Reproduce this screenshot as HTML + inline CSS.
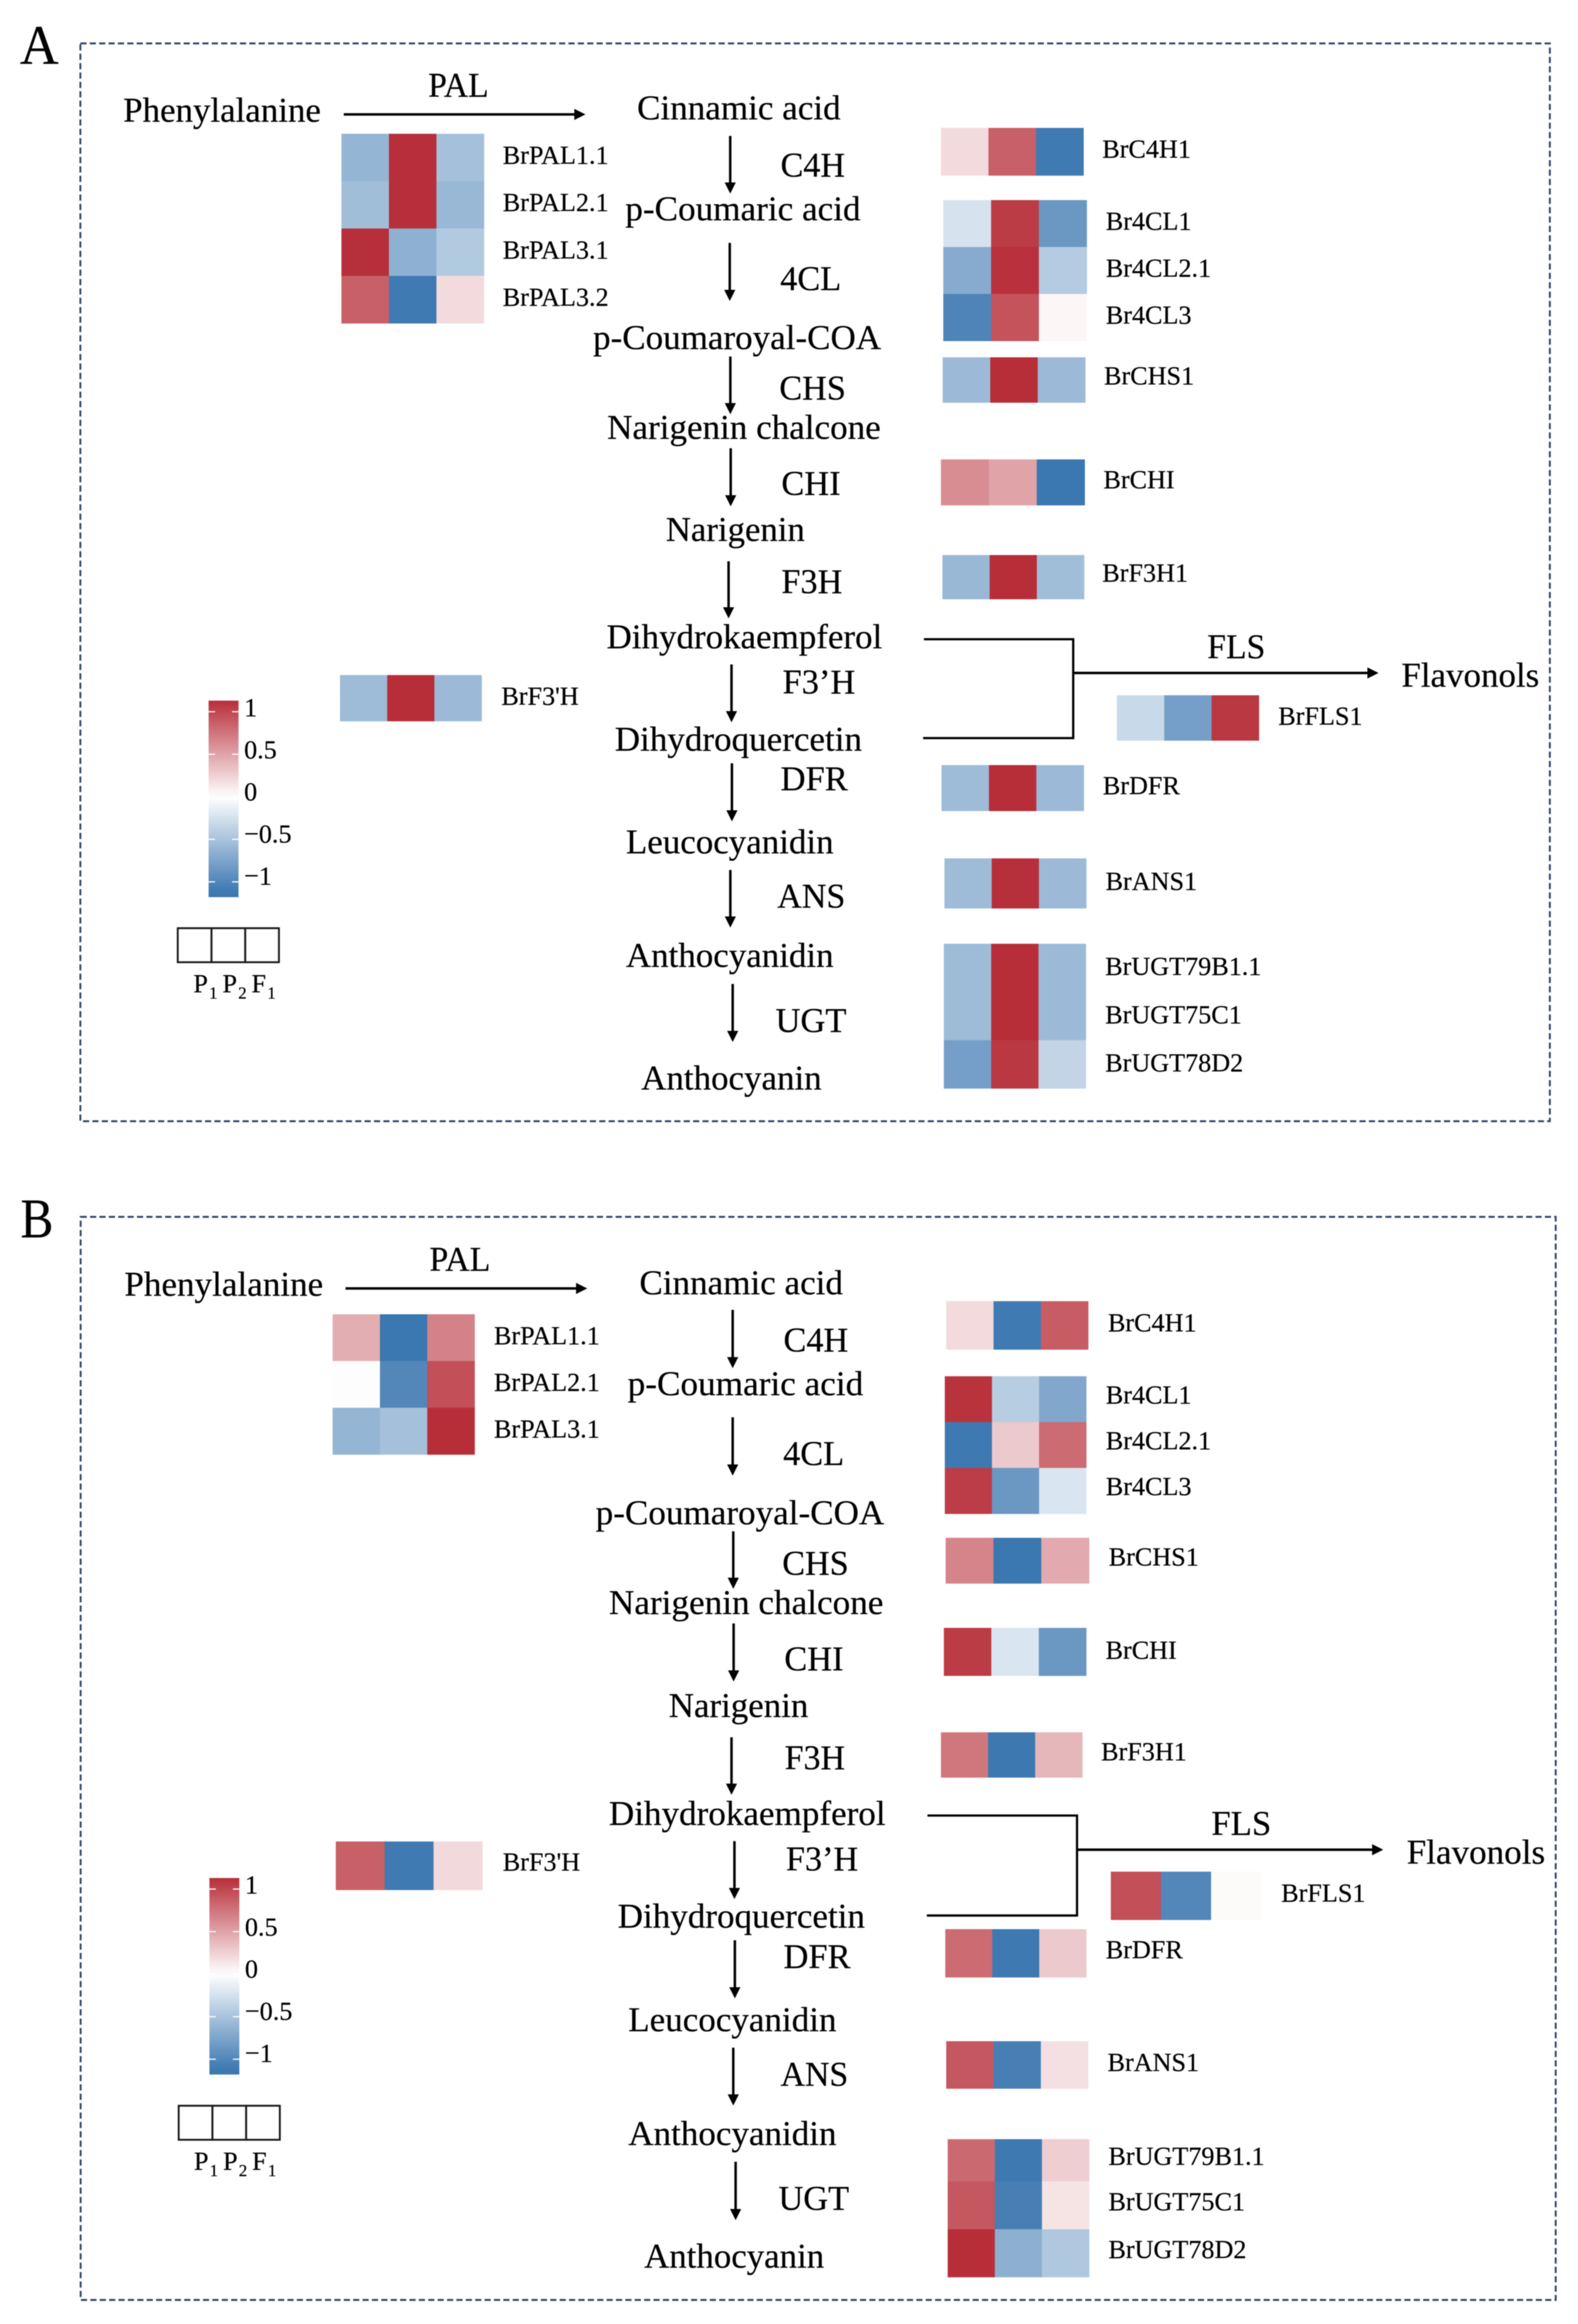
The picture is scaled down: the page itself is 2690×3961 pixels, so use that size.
<!DOCTYPE html>
<html lang="en">
<head>
<meta charset="utf-8">
<title>Flavonoid pathway heatmaps</title>
<style>
html,body{margin:0;padding:0;background:#fff}
#figure{display:block;width:2690px;height:3961px;filter:blur(.8px)}
text{font-family:"Liberation Serif","Times New Roman",serif;fill:#000;stroke:#000;stroke-width:.35}
.m{font-size:59px}
.g{font-size:44.6px}
.box{fill:none;stroke:#2f4468;stroke-width:3.2;stroke-dasharray:10.5 5.5}
.ar{stroke:#000;stroke-width:4.2;fill:none;marker-end:url(#arrow-head)}
.br{stroke:#000;stroke-width:3.8;fill:none}
</style>
</head>
<body>
<svg id="figure" xmlns="http://www.w3.org/2000/svg" width="2690" height="3961" viewBox="0 0 2690 3961">
<defs>
<marker id="arrow-head" markerUnits="userSpaceOnUse" markerWidth="20" markerHeight="20" refX="9" refY="10" orient="auto"><path d="M0 0.5L19 10L0 19.5z" fill="#000"/></marker>
</defs>
<rect width="2690" height="3961" fill="#fff"/>

<g id="panel-a">
<text x="34" y="109" font-size="95" textLength="66" lengthAdjust="spacingAndGlyphs">A</text>
<rect class="box" x="137" y="74" width="2505" height="1837"/>
<text class="m" x="210" y="207.5" textLength="337" lengthAdjust="spacingAndGlyphs">Phenylalanine</text>
<text class="m" x="730" y="165" textLength="103" lengthAdjust="spacingAndGlyphs">PAL</text>
<path class="ar" d="M586 195H988"/>
<text class="m" x="1086" y="203.5" textLength="347" lengthAdjust="spacingAndGlyphs">Cinnamic acid</text>
<path class="ar" d="M1244.8 231.6V320"/>
<text class="m" x="1330.6" y="301" textLength="110" lengthAdjust="spacingAndGlyphs">C4H</text>
<text class="m" x="1066" y="375.7" textLength="401" lengthAdjust="spacingAndGlyphs">p-Coumaric acid</text>
<path class="ar" d="M1244 414V503"/>
<text class="m" x="1330" y="494.5" textLength="104" lengthAdjust="spacingAndGlyphs">4CL</text>
<text class="m" x="1011" y="595" textLength="491" lengthAdjust="spacingAndGlyphs">p-Coumaroyal-COA</text>
<path class="ar" d="M1245 607.6V696"/>
<text class="m" x="1328.5" y="681" textLength="113.5" lengthAdjust="spacingAndGlyphs">CHS</text>
<text class="m" x="1035" y="748" textLength="466.4" lengthAdjust="spacingAndGlyphs">Narigenin chalcone</text>
<path class="ar" d="M1245.6 764V853"/>
<text class="m" x="1332" y="843.6" textLength="101" lengthAdjust="spacingAndGlyphs">CHI</text>
<text class="m" x="1135" y="922" textLength="237" lengthAdjust="spacingAndGlyphs">Narigenin</text>
<path class="ar" d="M1242 956.6V1044"/>
<text class="m" x="1332" y="1011" textLength="104" lengthAdjust="spacingAndGlyphs">F3H</text>
<text class="m" x="1034" y="1105" textLength="470" lengthAdjust="spacingAndGlyphs">Dihydrokaempferol</text>
<path class="ar" d="M1247 1132.5V1221"/>
<text class="m" x="1334" y="1182" textLength="124" lengthAdjust="spacingAndGlyphs">F3’H</text>
<text class="m" x="1048" y="1279.5" textLength="421.5" lengthAdjust="spacingAndGlyphs">Dihydroquercetin</text>
<path class="ar" d="M1247.7 1301V1390"/>
<text class="m" x="1330.6" y="1347" textLength="114.8" lengthAdjust="spacingAndGlyphs">DFR</text>
<text class="m" x="1067" y="1454.6" textLength="354" lengthAdjust="spacingAndGlyphs">Leucocyanidin</text>
<path class="ar" d="M1245 1482.7V1571"/>
<text class="m" x="1325" y="1547" textLength="116" lengthAdjust="spacingAndGlyphs">ANS</text>
<text class="m" x="1067" y="1648" textLength="354" lengthAdjust="spacingAndGlyphs">Anthocyanidin</text>
<path class="ar" d="M1249 1677V1766"/>
<text class="m" x="1322" y="1759" textLength="121" lengthAdjust="spacingAndGlyphs">UGT</text>
<text class="m" x="1093" y="1857" textLength="307.7" lengthAdjust="spacingAndGlyphs">Anthocyanin</text>
<path class="br" d="M1575 1089.5H1829.5V1258H1573.6"/>
<path class="ar" d="M1829.5 1147H2340"/>
<text class="m" x="2058" y="1122" textLength="99" lengthAdjust="spacingAndGlyphs">FLS</text>
<text class="m" x="2389" y="1170.5" textLength="235" lengthAdjust="spacingAndGlyphs">Flavonols</text>
</g>

<g id="panel-b">
<text x="35" y="2109" font-size="95" textLength="56" lengthAdjust="spacingAndGlyphs">B</text>
<rect class="box" x="137.5" y="2074" width="2514.5" height="1846"/>
<text class="m" x="212" y="2208.5" textLength="339" lengthAdjust="spacingAndGlyphs">Phenylalanine</text>
<text class="m" x="732" y="2166" textLength="104" lengthAdjust="spacingAndGlyphs">PAL</text>
<path class="ar" d="M589 2196H991"/>
<text class="m" x="1090" y="2206" textLength="347" lengthAdjust="spacingAndGlyphs">Cinnamic acid</text>
<path class="ar" d="M1249 2232.5V2322"/>
<text class="m" x="1335.6" y="2303.7" textLength="110.4" lengthAdjust="spacingAndGlyphs">C4H</text>
<text class="m" x="1070" y="2378" textLength="401.6" lengthAdjust="spacingAndGlyphs">p-Coumaric acid</text>
<path class="ar" d="M1249 2415.6V2505"/>
<text class="m" x="1335" y="2497" textLength="104" lengthAdjust="spacingAndGlyphs">4CL</text>
<text class="m" x="1015.5" y="2598" textLength="492" lengthAdjust="spacingAndGlyphs">p-Coumaroyal-COA</text>
<path class="ar" d="M1250 2610V2698"/>
<text class="m" x="1333.5" y="2684" textLength="113.2" lengthAdjust="spacingAndGlyphs">CHS</text>
<text class="m" x="1038" y="2751" textLength="468" lengthAdjust="spacingAndGlyphs">Narigenin chalcone</text>
<path class="ar" d="M1250.6 2767V2856"/>
<text class="m" x="1337" y="2847" textLength="101" lengthAdjust="spacingAndGlyphs">CHI</text>
<text class="m" x="1140" y="2926.5" textLength="238" lengthAdjust="spacingAndGlyphs">Narigenin</text>
<path class="ar" d="M1247 2961V3049"/>
<text class="m" x="1337.6" y="3015.5" textLength="103" lengthAdjust="spacingAndGlyphs">F3H</text>
<text class="m" x="1038" y="3110.5" textLength="471.7" lengthAdjust="spacingAndGlyphs">Dihydrokaempferol</text>
<path class="ar" d="M1252 3138V3226.7"/>
<text class="m" x="1339.7" y="3188" textLength="123.3" lengthAdjust="spacingAndGlyphs">F3’H</text>
<text class="m" x="1053" y="3285.5" textLength="421.5" lengthAdjust="spacingAndGlyphs">Dihydroquercetin</text>
<path class="ar" d="M1252.7 3307V3396"/>
<text class="m" x="1335.6" y="3354.4" textLength="114.4" lengthAdjust="spacingAndGlyphs">DFR</text>
<text class="m" x="1071" y="3462" textLength="355" lengthAdjust="spacingAndGlyphs">Leucocyanidin</text>
<path class="ar" d="M1250 3490V3578.6"/>
<text class="m" x="1330.6" y="3555" textLength="115.4" lengthAdjust="spacingAndGlyphs">ANS</text>
<text class="m" x="1071" y="3656" textLength="355" lengthAdjust="spacingAndGlyphs">Anthocyanidin</text>
<path class="ar" d="M1254 3684.5V3774"/>
<text class="m" x="1327" y="3766.6" textLength="120.5" lengthAdjust="spacingAndGlyphs">UGT</text>
<text class="m" x="1098" y="3865" textLength="307" lengthAdjust="spacingAndGlyphs">Anthocyanin</text>
<path class="br" d="M1581 3094.4H1836V3264.8H1580"/>
<path class="ar" d="M1836 3152.6H2348"/>
<text class="m" x="2065" y="3127.5" textLength="102" lengthAdjust="spacingAndGlyphs">FLS</text>
<text class="m" x="2398" y="3176.5" textLength="236" lengthAdjust="spacingAndGlyphs">Flavonols</text>
</g>
</svg>

<script>
// ---- Data: z-scored expression per gene, one array per sample ----
const sampleBase = ['P', 'P', 'F'];
const sampleSub = ['1', '2', '1'];
const colorbarTicks = [1, 0.5, 0, -0.5, -1];
const colorbarTickLabels = ['1', '0.5', '0', '\u22120.5', '\u22121'];
const colorbarMax = 1.13;
const colorbarMin = -1.18;

const genesA = ['BrPAL1.1', 'BrPAL2.1', 'BrPAL3.1', 'BrPAL3.2', 'BrC4H1', 'Br4CL1', 'Br4CL2.1', 'Br4CL3', 'BrCHS1', 'BrCHI', 'BrF3H1', "BrF3'H", 'BrFLS1', 'BrDFR', 'BrANS1', 'BrUGT79B1.1', 'BrUGT75C1', 'BrUGT78D2'];
const p1A = [-0.62, -0.55, 1.15, 0.88, 0.2, -0.24, -0.71, -1.04, -0.58, 0.63, -0.6, -0.57, -0.32, -0.57, -0.57, -0.57, -0.57, -0.81];
const p2A = [1.15, 1.15, -0.66, -1.12, 0.88, 1.08, 1.14, 0.95, 1.155, 0.51, 1.155, 1.155, -0.81, 1.155, 1.15, 1.155, 1.155, 1.1];
const f1A = [-0.53, -0.6, -0.45, 0.2, -1.12, -0.87, -0.44, 0.05, -0.58, -1.15, -0.55, -0.58, 1.1, -0.58, -0.58, -0.58, -0.58, -0.36];

const genesB = ['BrPAL1.1', 'BrPAL2.1', 'BrPAL3.1', 'BrC4H1', 'Br4CL1', 'Br4CL2.1', 'Br4CL3', 'BrCHS1', 'BrCHI', 'BrF3H1', "BrF3'H", 'BrFLS1', 'BrDFR', 'BrANS1', 'BrUGT79B1.1', 'BrUGT75C1', 'BrUGT78D2'];
const p1B = [0.45, 0.01, -0.62, 0.2, 1.13, -1.13, 1.07, 0.68, 1.08, 0.75, 0.88, 0.97, 0.82, 0.93, 0.83, 0.93, 1.155];
const p2B = [-1.15, -1.01, -0.53, -1.12, -0.42, 0.3, -0.87, -1.15, -0.22, -1.14, -1.12, -1.01, -1.13, -1.08, -1.13, -1.08, -0.67];
const f1B = [0.69, 0.97, 1.155, 0.9, -0.74, 0.82, -0.22, 0.47, -0.87, 0.4, 0.21, 0.03, 0.3, 0.17, 0.27, 0.15, -0.47];

// ---- Scales and drawing ----
const NS = 'http://www.w3.org/2000/svg';
const COLOR_LIMIT = 1.155;
const RED = [183, 46, 57];
const BLUE = [58, 118, 176];
const UNIT_PX = 145;
const LABEL_UNIT_PX = 143.5;

function colorScale(v) {
  const t = Math.min(Math.abs(v) / COLOR_LIMIT, 1);
  const end = v >= 0 ? RED : BLUE;
  const c = end.map(function (e) { return Math.round(255 + (e - 255) * t); });
  return 'rgb(' + c.join(',') + ')';
}

function slug(s) {
  return s.toLowerCase().replace(/[^a-z0-9]+/g, '-').replace(/-$/, '');
}

function mk(parent, tag, attrs) {
  const n = document.createElementNS(NS, tag);
  Object.keys(attrs).forEach(function (k) { n.setAttribute(k, attrs[k]); });
  parent.appendChild(n);
  return n;
}

// One heatmap block: rows are genes starting at `first`, columns are samples.
function heatBlock(panel, first, count, x0, x1, y0, y1, labelX, labelDy) {
  const root = document.getElementById(panel.id);
  const colW = (x1 - x0) / 3;
  const rowH = (y1 - y0) / count;
  const series = [panel.p1, panel.p2, panel.f1];
  for (let r = 0; r < count; r++) {
    const gene = panel.genes[first + r];
    const rowY = y0 + r * rowH;
    series.forEach(function (values, c) {
      const cell = mk(root, 'rect', { x: x0 + c * colW, y: rowY, width: colW + 0.4, height: rowH + 0.4, fill: colorScale(values[first + r]) });
      
      
    });
    const label = mk(root, 'text', { x: labelX, y: rowY + rowH / 2 + labelDy, class: 'g' });
    label.textContent = gene;
    
    
  }
}

function colorbar(panel, x0, x1, yZero) {
  const root = document.getElementById(panel.id);
  const yOf = function (v) { return yZero - UNIT_PX * v; };
  const defs = document.querySelector('#figure defs');
  const grad = mk(defs, 'linearGradient', { id: 'cb-' + panel.id, x1: 0, y1: 0, x2: 0, y2: 1 });
  const steps = 24;
  for (let i = 0; i <= steps; i++) {
    const v = colorbarMax + (colorbarMin - colorbarMax) * i / steps;
    mk(grad, 'stop', { offset: i / steps, 'stop-color': colorScale(v * 1.02) });
  }
  const bar = mk(root, 'rect', { x: x0, y: yOf(colorbarMax), width: x1 - x0, height: yOf(colorbarMin) - yOf(colorbarMax), fill: 'url(#cb-' + panel.id + ')' });
  
  
  colorbarTicks.forEach(function (tick, i) {
    const y = yOf(tick);
    const left = mk(root, 'rect', { x: x0, y: y - 1, width: 11, height: 2, fill: '#fff' });
    
    
    const right = mk(root, 'rect', { x: x1 - 11, y: y - 1, width: 11, height: 2, fill: '#fff' });
    
    
    const label = mk(root, 'text', { x: x1 + 9.5, y: yZero + 6 - LABEL_UNIT_PX * tick, class: 'g' });
    label.textContent = colorbarTickLabels[i];
    
    
  });
}

function sampleKey(panel, x0, x1, y0, y1, labelX, baseline) {
  const root = document.getElementById(panel.id);
  const w = (x1 - x0) / 3;
  sampleBase.forEach(function (base, i) {
    const box = mk(root, 'rect', { x: x0 + i * w, y: y0, width: w, height: y1 - y0, fill: 'none', stroke: '#1a1a1a', 'stroke-width': 3.2 });
    
    
    const label = mk(root, 'text', { x: labelX + i * 49.6, y: baseline, class: 'g' });
    
    
    label.appendChild(document.createTextNode(base));
    const sub = mk(label, 'tspan', { dx: 2, dy: 11, 'font-size': 29 });
    sub.textContent = sampleSub[i];
  });
}

const panelA = { id: 'panel-a', genes: genesA, p1: p1A, p2: p2A, f1: f1A };
const panelB = { id: 'panel-b', genes: genesB, p1: p1B, p2: p2B, f1: f1B };

// Panel A blocks
heatBlock(panelA, 0, 4, 582, 825, 228, 551, 857, 10.5);
heatBlock(panelA, 4, 1, 1604, 1847, 218, 299, 1879, 10);
heatBlock(panelA, 5, 3, 1608, 1852.5, 341, 581, 1885, 10.5);
heatBlock(panelA, 8, 1, 1607, 1850, 609, 686, 1882, 7.5);
heatBlock(panelA, 9, 1, 1604, 1849, 783, 861, 1881, 10);
heatBlock(panelA, 10, 1, 1606.5, 1848, 946, 1021, 1879, 7.5);
heatBlock(panelA, 11, 1, 579.6, 821, 1150.6, 1229, 854.6, 11);
heatBlock(panelA, 12, 1, 1904, 2146, 1185, 1262, 2179, 11.5);
heatBlock(panelA, 13, 1, 1605, 1847.5, 1304, 1382, 1880, 10.5);
heatBlock(panelA, 14, 1, 1610, 1851.7, 1463, 1548, 1884.6, 11);
heatBlock(panelA, 15, 3, 1609, 1851, 1608.5, 1855, 1884, 12);
colorbar(panelA, 355.6, 406.6, 1358);
sampleKey(panelA, 303, 475.5, 1582, 1640, 329.6, 1691);

// Panel B blocks
heatBlock(panelB, 0, 3, 567, 809, 2240, 2479, 842, 11);
heatBlock(panelB, 3, 1, 1613, 1855, 2217.7, 2300, 1888.7, 10);
heatBlock(panelB, 4, 3, 1610.6, 1851.7, 2345.7, 2580, 1885, 7);
heatBlock(panelB, 7, 1, 1612, 1856.6, 2621, 2698.7, 1890, 8);
heatBlock(panelB, 8, 1, 1609, 1851.7, 2774.5, 2856, 1884.6, 11.5);
heatBlock(panelB, 9, 1, 1604, 1845, 2952.5, 3029.4, 1877, 9);
heatBlock(panelB, 10, 1, 572.4, 822.4, 3138.6, 3221, 857, 8);
heatBlock(panelB, 11, 1, 1893.6, 2150, 3190, 3272, 2184, 10);
heatBlock(panelB, 12, 1, 1611.4, 1851.7, 3288, 3370, 1885, 8.7);
heatBlock(panelB, 13, 1, 1613, 1855, 3479, 3559.6, 1888, 10);
heatBlock(panelB, 14, 1, 1615.5, 1856.6, 3646, 3718, 1889.5, 7.5);
heatBlock(panelB, 15, 2, 1615.5, 1856.6, 3718, 3881, 1889.5, 8);
colorbar(panelB, 357, 408, 3364.7);
sampleKey(panelB, 304.6, 477, 3589, 3647, 330.6, 3698);
</script>
</body>
</html>
